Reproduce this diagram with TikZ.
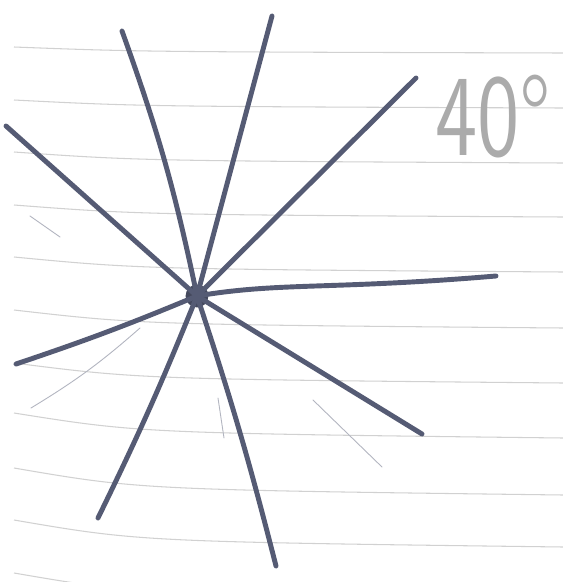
\documentclass[tikz,border=0pt]{standalone}
\usepackage{fontspec}
\usepackage{graphicx}
\begin{document}
\begin{tikzpicture}[x=0.02cm,y=-0.02cm,
	spoke/.style={line width=2.8pt,color=pencil,line cap=round},
	faint/.style={line width=0.5pt,color=pencil!45,line cap=round},
	ruled/.style={line width=0.6pt,color=black!18}]
	\definecolor{pencil}{HTML}{555B74}
	\useasboundingbox (0,0) rectangle (563,582);
	\fill[white] (0,0) rectangle (563,582);
	% Draw the ruled paper
	\foreach \yl/\yr in {47/53,100/108,152/163,205/217,257/272,310/328,363/383,413/438,468/495,520/547,573/600}
		\draw[ruled] (14,\yl) .. controls (140,{\yl+0.8*(\yr-\yl)}) .. (563,\yr);
	% Define the coordinates
	\node[circle,fill=pencil!80!black,inner sep=0pt,minimum size=13pt] (C) at (197,296) {};
	\coordinate (A1) at (6,126);
	\coordinate (A2) at (122,31);
	\coordinate (A3) at (272,16);
	\coordinate (A4) at (416,78);
	\coordinate (A5) at (496,276);
	\coordinate (A6) at (16,364);
	\coordinate (A7) at (98,518);
	\coordinate (A8) at (276,566);
	\coordinate (A9) at (422,434);
	% Draw the spokes
	\draw[spoke] (A1) -- (C.center);
	\draw[spoke] (A2) to[bend left=4] (C.center);
	\draw[spoke] (A3) -- (C.center);
	\draw[spoke] (A4) -- (C.center);
	\draw[spoke] (C.center) .. controls (280,282) and (330,290) .. (A5);
	\draw[spoke] (A6) to[bend right=2] (C.center);
	\draw[spoke] (A7) to[bend right=2] (C.center);
	\draw[spoke] (A8) to[bend right=2] (C.center);
	\draw[spoke] (A9) -- (C.center);
	% Add the faint marks
	\draw[faint] (30,216) -- (60,237);
	\draw[faint] (31,408) to[bend right=5] (140,328);
	\draw[faint] (313,400) -- (382,467);
	\draw[faint] (218,398) -- (224,438);
	% Add labels
	\node[text=black!33,font=\sffamily,inner sep=0pt] (L) at (493,117)
		{\scalebox{4.8}[6.6]{40°}};
\end{tikzpicture}
\end{document}
